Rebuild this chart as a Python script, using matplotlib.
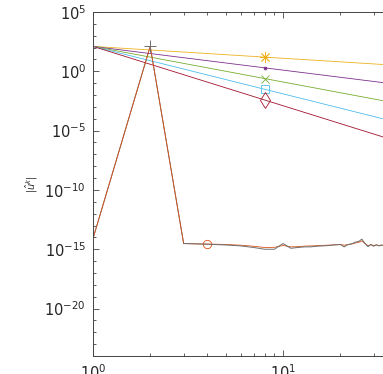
import numpy as np
import matplotlib
matplotlib.use("Agg")
import matplotlib.pyplot as plt
from matplotlib.ticker import FixedLocator, NullFormatter, LogFormatterSciNotation

# ---- data ----
k = np.arange(1, 65)
C0 = 10 ** 2.1
powers = [1, 2, 3, 4, 5]
power_colors = ['#EDB120', '#7E2F8E', '#77AC30', '#4DBEEE', '#A2142F']
power_markers = [(8, 2, 0), '.', 'x', 's', 'd']

orange_log = [-14.1, 2.1, -14.52, -14.56, -14.6, -14.66, -14.75, -14.85, -14.84, -14.68,
              -14.8, -14.78, -14.74, -14.72, -14.7, -14.68, -14.66, -14.64, -14.62, -14.6,
              -14.66, -14.6, -14.56, -14.48, -14.42, -14.3, -14.52, -14.7, -14.62, -14.68,
              -14.64, -14.68, -14.65, -14.68, -14.66, -14.7, -14.67, -14.69, -14.66, -14.7]
gray_log = [-14.1, 2.1, -14.52, -14.58, -14.64, -14.72, -14.85, -15.0, -15.0, -14.52,
            -14.92, -14.85, -14.8, -14.8, -14.75, -14.72, -14.7, -14.66, -14.63, -14.6,
            -14.8, -14.6, -14.55, -14.4, -14.35, -14.15, -14.5, -14.78, -14.6, -14.75,
            -14.62, -14.72, -14.65, -14.7, -14.62, -14.74, -14.66, -14.72, -14.64, -14.7]
k_noise = np.arange(1, len(gray_log) + 1)

# ---- figure ----
fig = plt.figure(figsize=(3.83, 3.74), dpi=100)
W, H = 383, 374
left_px, top_px, bottom_px = 93, 12, 356
decade_px = 190
xmax = 64
width_px = decade_px * np.log10(xmax)
ax = fig.add_axes([left_px / W, 1 - bottom_px / H, width_px / W, (bottom_px - top_px) / H])

for p, c, m in zip(powers, power_colors, power_markers):
    if m == '.':
        ms = 4
    elif m in ['s', 'x']:
        ms = 6
    else:
        ms = 8
    ax.plot(k, C0 * k.astype(float) ** (-p), color=c, lw=0.6, marker=m,
            markevery=[7], ms=ms, mfc='none' if m in ['s', 'd'] else c, mew=0.6)

orange = 10.0 ** np.array(orange_log)
gray = 10.0 ** np.array(gray_log)
ax.plot(k_noise, orange, color='#D95319', lw=0.6,
        marker='o', markevery=[3], ms=6, mfc='none', mew=0.6, zorder=2)
# gray series: its first segments coincide with the orange one (drawn beneath it)
ax.plot(k_noise[:3], gray[:3], color='#6e6e6e', lw=0.7, zorder=1.5)
ax.plot(k_noise[2:], gray[2:], color='#6e6e6e', lw=0.7, zorder=2.5)
ax.plot(k_noise[1:2], gray[1:2], color='#6e6e6e', lw=0, marker='+', ms=8, mew=0.7, zorder=3)

ax.set_xscale('log')
ax.set_yscale('log')
ax.set_xlim(1, xmax)
ax.set_ylim(1e-24, 1e5)

ax.xaxis.set_major_locator(FixedLocator([1, 10]))
ax.xaxis.set_minor_locator(FixedLocator([2, 3, 4, 5, 6, 7, 8, 9, 20, 30, 40, 50, 60]))
ax.xaxis.set_major_formatter(LogFormatterSciNotation())
ax.xaxis.set_minor_formatter(NullFormatter())
ax.yaxis.set_major_locator(FixedLocator([10.0 ** e for e in range(-20, 6, 5)]))
ax.yaxis.set_minor_locator(FixedLocator([10.0 ** e for e in range(-24, 6)]))
ax.yaxis.set_major_formatter(LogFormatterSciNotation())
ax.yaxis.set_minor_formatter(NullFormatter())

dark = '#262626'
ax.tick_params(which='both', direction='in', top=True, right=True, color='#444444',
               labelcolor=dark, labelsize=10.5, width=0.6)
ax.tick_params(which='major', length=4, pad=5)
ax.tick_params(which='minor', length=2.5)
for s in ax.spines.values():
    s.set_color('#444444')
    s.set_linewidth(0.7)

ax.set_ylabel(r'$|\hat{u}^k|$', fontsize=7, color=dark)
ax.yaxis.set_label_coords((40 - left_px) / width_px, 0.5)

fig.savefig('out.png', dpi=100)
